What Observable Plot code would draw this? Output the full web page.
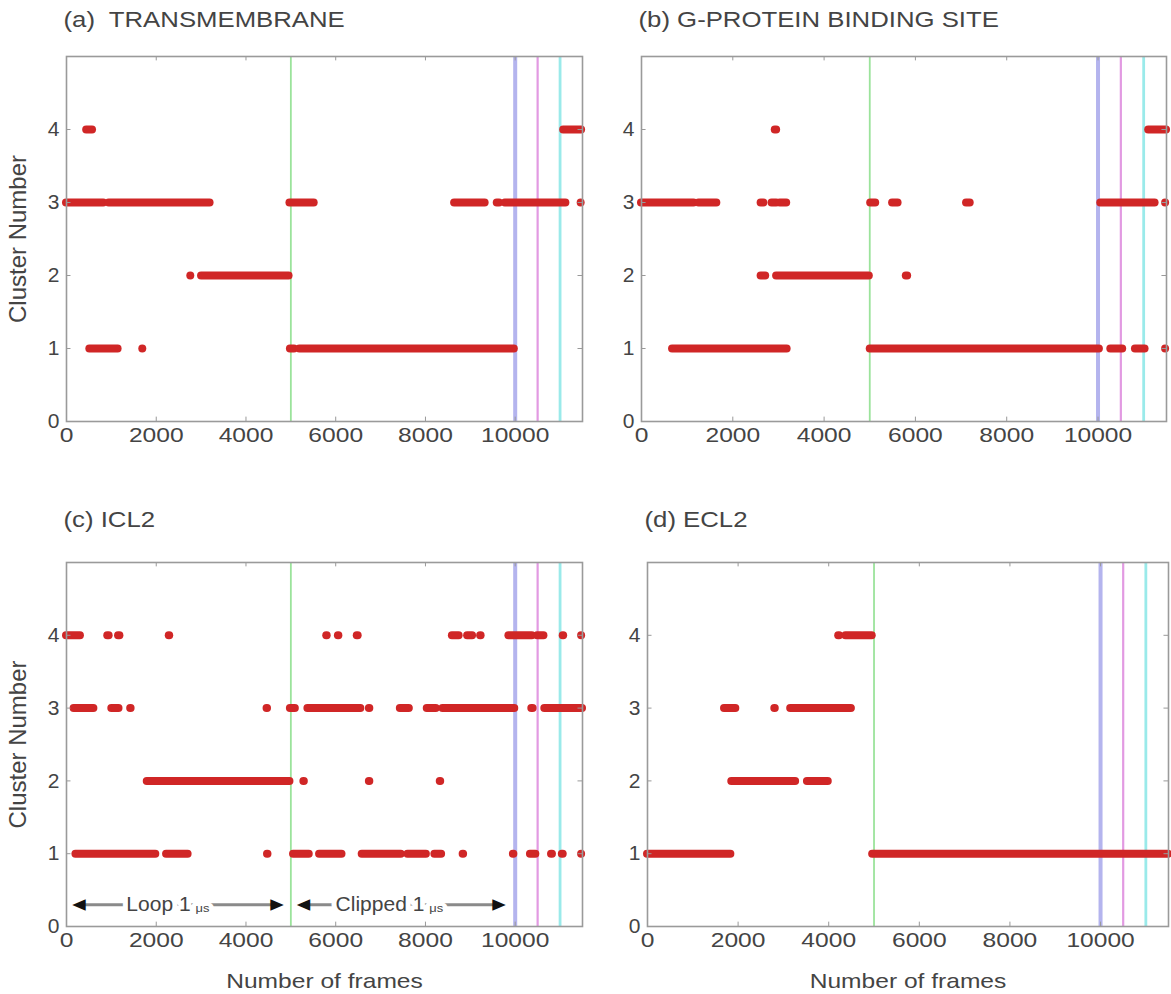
<!DOCTYPE html>
<html><head><meta charset="utf-8">
<script src="https://cdn.jsdelivr.net/npm/d3@7"></script>
<script src="https://cdn.jsdelivr.net/npm/@observablehq/plot@0.6"></script>
<style>
body{margin:0;background:#fff;}
#fig{position:relative;width:1171px;height:994px;overflow:hidden;background:#fff;}
.panel{position:absolute;}
</style></head><body><div id="fig"></div>
<script>
// ---- data ----
const xTicks = [0, 2000, 4000, 6000, 8000, 10000];
const yTicks = [0, 1, 2, 3, 4];
const frameMax = 11500;
const clusterMax = 5;
const eventFrames = [5000, 10000, 10500, 11000];
const panelTitles = ["(a)  TRANSMEMBRANE", "(b) G-PROTEIN BINDING SITE", "(c) ICL2", "(d) ECL2"];
const yAxisLabel = "Cluster Number";
const xAxisLabel = "Number of frames";

// runs of consecutive frames in one cluster: [cluster, firstFrame, lastFrame]
const transmembraneRuns = [
  [4, 450, 580], [4, 11080, 11480],
  [3, 0, 830], [3, 950, 3200], [3, 4980, 5520], [3, 8650, 9330], [3, 9600, 9650], [3, 9780, 11130], [3, 11470, 11470],
  [2, 2770, 2770], [2, 3010, 4960],
  [1, 520, 1150], [1, 1700, 1700], [1, 4990, 5080], [1, 5200, 9980]
];
const gProteinRuns = [
  [4, 2930, 2960], [4, 11110, 11500],
  [3, 0, 1150], [3, 1260, 1650], [3, 2620, 2680], [3, 2860, 2960], [3, 3040, 3180], [3, 5020, 5130], [3, 5500, 5620], [3, 7120, 7200], [3, 10060, 11250], [3, 11480, 11480],
  [2, 2620, 2720], [2, 2960, 4990], [2, 5800, 5830],
  [1, 680, 3190], [1, 5010, 10030], [1, 10280, 10540], [1, 10820, 11030], [1, 11480, 11480]
];
const icl2Runs = [
  [4, 0, 310], [4, 920, 950], [4, 1160, 1190], [4, 2290, 2300], [4, 5800, 5810], [4, 6060, 6070], [4, 6480, 6500],
  [4, 8600, 8750], [4, 8940, 9050], [4, 9230, 9240], [4, 9860, 10380], [4, 10500, 10640], [4, 11070, 11080], [4, 11480, 11480],
  [3, 170, 610], [3, 1010, 1170], [3, 1430, 1440], [3, 4470, 4480], [3, 4990, 5100], [3, 5380, 6560], [3, 6750, 6760],
  [3, 7440, 7640], [3, 8040, 8240], [3, 8390, 9990], [3, 10370, 10400], [3, 10660, 11500],
  [2, 1800, 4980], [2, 5290, 5300], [2, 6750, 6760], [2, 8330, 8340],
  [1, 210, 1990], [1, 2230, 2710], [1, 4480, 4490], [1, 5060, 5410], [1, 5640, 6140], [1, 6590, 7460], [1, 7610, 8020],
  [1, 8210, 8360], [1, 8840, 8850], [1, 9960, 9970], [1, 10340, 10460], [1, 10810, 10830], [1, 11050, 11070], [1, 11480, 11480]
];
const ecl2Runs = [
  [4, 4220, 4240], [4, 4380, 4960],
  [3, 1700, 1950], [3, 2810, 2820], [3, 3160, 4500],
  [2, 1860, 3270], [2, 3530, 3990],
  [1, 0, 1840], [1, 4970, 11500]
];
// annotation of the two 1 µs trajectories in panel (c)
const trajectoryNotes = [
  {label: "Loop 1", unit: "\u03bcs", from: 280, to: 4690, textEnd: 2810, level: 0.3},
  {label: "Clipped 1", unit: "\u03bcs", from: 5280, to: 9640, textEnd: 8020, level: 0.3}
];

// ---- styles ----
const FONT = "'Liberation Sans', Arial, Helvetica, sans-serif";
const RED = "#d02626";
const TEXT = "#444";
const STRETCH = 1.17; // the reference lettering is horizontally widened
const eventColors = ["#9be39b", "#b4b4ee", "#e29ae2", "#9aeaea"];
const eventWidths = [1.8, 4, 2.2, 2.8];

function toRows(runs) { return runs.map(([c, s, e]) => ({cluster: c, start: s, end: e})); }

function widenText(svg) {
  svg.querySelectorAll("text").forEach(t => {
    const tr = t.getAttribute("transform") || "";
    if (tr.includes("rotate")) return;
    if (getComputedStyle(t).textAnchor === "end") return;
    const len = t.getComputedTextLength();
    if (len > 0) {
      t.setAttribute("textLength", (len * STRETCH).toFixed(1));
      t.setAttribute("lengthAdjust", "spacingAndGlyphs");
    }
  });
}

function panel({runs, title, left, top, width, height, ml, mr, mt, mb, showY, showX, notes}) {
  const marks = [];
  eventFrames.forEach((f, i) => {
    marks.push(Plot.ruleX([f], {x: d => d, stroke: eventColors[i], strokeWidth: eventWidths[i]}));
  });
  marks.push(Plot.ruleY(toRows(runs), {y: "cluster", x1: "start", x2: "end", stroke: RED, strokeWidth: 8, strokeLinecap: "round"}));
  // inner ticks on all four sides
  const tc = "#999";
  marks.push(Plot.ruleX(xTicks, {x: d => d, y1: 0, y2: 0.06, stroke: tc}));
  marks.push(Plot.ruleX(xTicks, {x: d => d, y1: clusterMax, y2: clusterMax - 0.06, stroke: tc}));
  marks.push(Plot.ruleY(yTicks, {y: d => d, x1: 0, x2: 100, stroke: tc}));
  marks.push(Plot.ruleY(yTicks, {y: d => d, x1: frameMax, x2: frameMax - 100, stroke: tc}));
  marks.push(Plot.frame({stroke: "#9a9a9a", strokeWidth: 1.6}));
  if (notes) {
    marks.push(Plot.ruleY(notes, {y: "level", x1: "from", x2: "to", stroke: "#8a8a8a", strokeWidth: 3}));
    marks.push(Plot.text(notes, {x: "textEnd", y: "level", text: "label", textAnchor: "end", fontSize: 21, fill: TEXT,
      stroke: "white", strokeWidth: 10, paintOrder: "stroke", dx: -2}));
    marks.push(Plot.text(notes, {x: "textEnd", y: "level", text: "unit", textAnchor: "start", fontSize: 11, fill: TEXT,
      stroke: "white", strokeWidth: 8, paintOrder: "stroke", dx: 3, dy: 4}));
    marks.push(Plot.text(notes, {x: "from", y: "level", text: d => "\u25C0", fontSize: 15, fill: "#111", fontFamily: "DejaVu Sans"}));
    marks.push(Plot.text(notes, {x: "to", y: "level", text: d => "\u25B6", fontSize: 15, fill: "#111", fontFamily: "DejaVu Sans"}));
  }
  marks.push(Plot.text([title], {text: d => d, frameAnchor: "top-left", textAnchor: "start", lineAnchor: "middle",
    dy: -(mt - 19), dx: -3, fontSize: 22, fill: TEXT}));
  if (showY) marks.push(Plot.text([yAxisLabel], {text: d => d, frameAnchor: "left", textAnchor: "middle", rotate: -90, dx: -48,
    fontSize: 24, fill: TEXT}));
  if (showX) marks.push(Plot.text([xAxisLabel], {text: d => d, frameAnchor: "bottom", textAnchor: "middle", lineAnchor: "middle", dy: 55,
    fontSize: 21, fill: TEXT}));

  const svg = Plot.plot({
    width, height,
    marginLeft: ml, marginRight: mr, marginTop: mt, marginBottom: mb,
    style: {fontFamily: FONT, fontSize: "21px", color: TEXT, background: "white", overflow: "visible"},
    x: {domain: [0, frameMax], ticks: xTicks, tickSize: 0, tickPadding: 6, label: null, tickFormat: d => String(d)},
    y: {domain: [0, clusterMax], ticks: yTicks, tickSize: 0, tickPadding: 7, label: null, tickFormat: d => String(d)},
    marks
  });
  const div = document.createElement("div");
  div.className = "panel";
  div.style.left = left + "px";
  div.style.top = top + "px";
  div.appendChild(svg);
  document.getElementById("fig").appendChild(div);
  widenText(svg);
}

panel({runs: transmembraneRuns, title: panelTitles[0], left: 0, top: 0, width: 590, height: 470, ml: 66, mr: 8, mt: 56, mb: 49, showY: true});
panel({runs: gProteinRuns, title: panelTitles[1], left: 590, top: 0, width: 581, height: 470, ml: 51, mr: 5, mt: 56, mb: 49});
panel({runs: icl2Runs, title: panelTitles[2], left: 0, top: 500, width: 590, height: 494, ml: 66, mr: 8, mt: 62, mb: 68, showY: true, showX: true, notes: trajectoryNotes});
panel({runs: ecl2Runs, title: panelTitles[3], left: 590, top: 500, width: 581, height: 494, ml: 57, mr: 3, mt: 62, mb: 68, showX: true});
</script></body></html>
